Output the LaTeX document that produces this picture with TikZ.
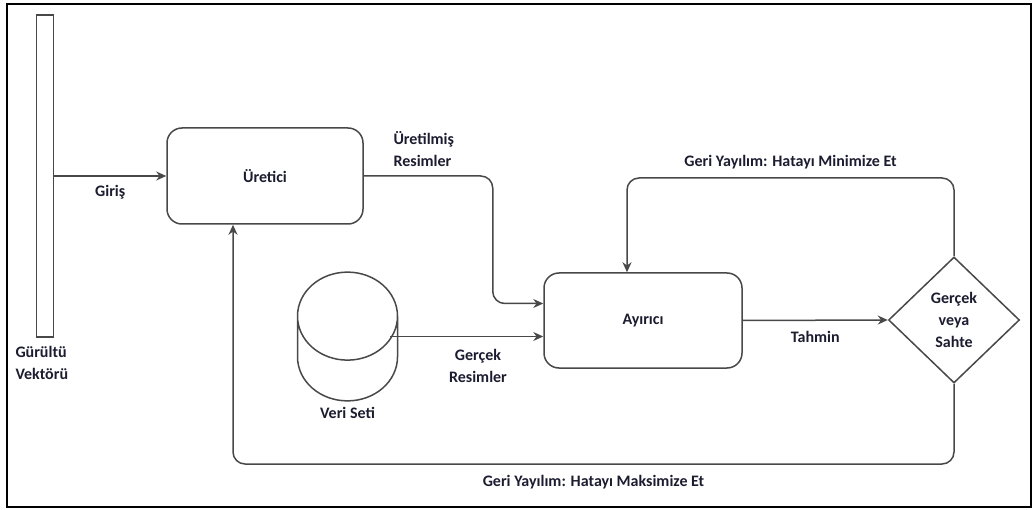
\documentclass[tikz,border=0pt]{standalone}
\usepackage{fontspec}
\setmainfont{Carlito}
\usepackage{tikz}
\usetikzlibrary{shapes.geometric, arrows.meta, positioning, calc}
\definecolor{myline}{RGB}{72,72,72}
\definecolor{mytext}{RGB}{28,28,48}
\tikzset{
  block/.style={rectangle, draw=myline, fill=white,
    minimum width=196pt, minimum height=96pt,
    rounded corners=15pt, line width=1.5pt, text=mytext},
  noisebar/.style={rectangle, draw=myline, fill=white,
    minimum width=17pt, minimum height=322pt, inner sep=0pt, line width=1.5pt},
  dataset/.style={cylinder, shape border rotate=90, aspect=0.88,
    draw=myline, fill=white, inner xsep=50pt, inner ysep=20pt, minimum height=127pt,
    line width=1.5pt},
  decide/.style={diamond, draw=myline, fill=white, minimum width=131pt,
    minimum height=126pt, inner sep=0pt, align=center, line width=1.5pt, text=mytext},
  lbl/.style={text=mytext, align=center},
  arrow/.style={-{Stealth[length=10pt, width=9pt]}, line width=1.5pt, color=myline},
  loop/.style={arrow, rounded corners=12pt}
}

\begin{document}
\begin{tikzpicture}[x=1pt, y=-1pt, every node/.style={font=\bfseries\fontsize{16}{22}\selectfont}]
  \useasboundingbox (0,0) rectangle (1035,510);
  \draw[line width=1.4pt, black] (7,4) rectangle (1031,507);

  \node[noisebar] (noise) at (45,176) {};
  \node[lbl, align=left, anchor=north west] (noiselbl) at (12,343) {Gürültü\\Vektörü};
  \node[block] (gen) at (265,176) {Üretici};
  \node[block, minimum width=198pt, minimum height=95pt] (disc) at (643,320.5) {Ayırıcı};
  \node[dataset, anchor=shape center] (vs) at (347.5,336.5) {};
  \node[lbl, below=2pt of vs.bottom] (vslbl) {Veri Seti};
  \node[decide] (rf) at (954,320) {Gerçek\\veya\\Sahte};

  \coordinate (mintop) at (0,178);
  \coordinate (maxbot) at (0,464);
  \coordinate (dtop) at ([xshift=-16pt]disc.north);
  \coordinate (gbot) at ([xshift=-32pt]gen.south);
  \coordinate (realin) at ([yshift=-16pt]disc.west);

  \draw[arrow] (noise.east |- gen.west) -- node[lbl, below=5pt] {Giriş} (gen.west);
  \draw[loop] (gen.east) -- ++(129,0) |- ([yshift=17pt]disc.west);
  \node[lbl, align=left, anchor=west] at (390,149) {Üretilmiş\\Resimler};
  \draw[arrow] (vs.east |- realin) -- (realin);
  \node[lbl] at (478,366) {Gerçek\\Resimler};
  \draw[arrow] (disc.east) -- node[lbl, below=7pt] {Tahmin} (rf.west);
  \draw[loop] (rf.north) -- (rf.north |- mintop)
    -- node[lbl, above=5pt] {Geri Yayılım: Hatayı Minimize Et} (dtop |- mintop) -- (dtop);
  \draw[loop] (rf.south) -- (rf.south |- maxbot)
    -- node[lbl, below=7pt] {Geri Yayılım: Hatayı Maksimize Et} (gbot |- maxbot) -- (gbot);
\end{tikzpicture}
\end{document}
